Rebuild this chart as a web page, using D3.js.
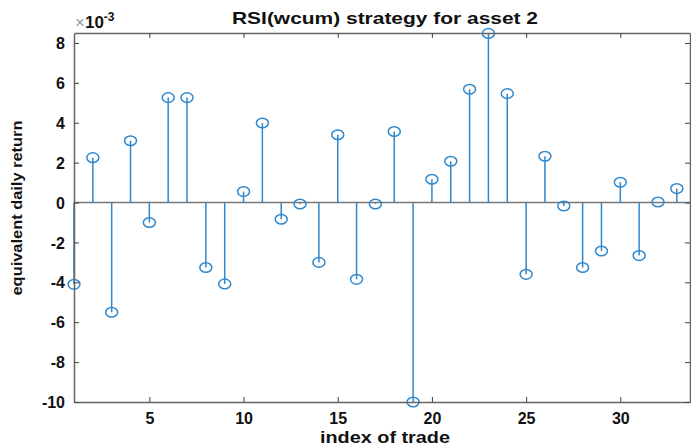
<!DOCTYPE html>
<html>
<head>
<meta charset="utf-8">
<script src="https://cdn.jsdelivr.net/npm/d3@7"></script>
<style>
  body { margin: 0; background: #fff; }
  text { font-family: "Liberation Sans", Arial, sans-serif; font-weight: bold; }
</style>
</head>
<body>
<div id="chart"></div>
<script>
// trade index and equivalent daily return (x 1e-3)
const trades = d3.range(1, 34);
const returns = [-4.1, 2.25, -5.5, 3.1, -1.0, 5.26, 5.26, -3.26, -4.08, 0.55,
                 3.99, -0.84, -0.07, -3.0, 3.4, -3.85, -0.07, 3.56, -10.0, 1.17,
                 2.07, 5.68, 8.48, 5.46, -3.6, 2.32, -0.17, -3.26, -2.43, 1.02,
                 -2.66, 0.03, 0.7];
const xTicks = [5, 10, 15, 20, 25, 30];
const yTicks = [-10, -8, -6, -4, -2, 0, 2, 4, 6, 8];

const width = 691, height = 448;
const margin = { top: 33, right: 1, bottom: 46, left: 74 };

const svg = d3.select("#chart").append("svg")
    .attr("width", width)
    .attr("height", height);

const x = d3.scaleLinear()
    .domain([1, 33.7])
    .range([margin.left, width - margin.right]);

const y = d3.scaleLinear()
    .domain([-10, 8.5])
    .range([height - margin.bottom, margin.top]);

const axisColor = "#666";
const stemColor = "#2f87cc";

// zero baseline
svg.append("line")
    .attr("x1", margin.left).attr("x2", width - margin.right)
    .attr("y1", y(0)).attr("y2", y(0))
    .attr("stroke", "#777").attr("stroke-width", 1.5);

// stems
const data = trades.map((t, i) => ({ t, v: returns[i] }));
svg.selectAll(".stem")
    .data(data)
    .enter().append("line")
    .attr("x1", d => x(d.t)).attr("x2", d => x(d.t))
    .attr("y1", y(0)).attr("y2", d => y(d.v))
    .attr("stroke", stemColor).attr("stroke-width", 1.5);

svg.selectAll(".marker")
    .data(data)
    .enter().append("ellipse")
    .attr("cx", d => x(d.t)).attr("cy", d => y(d.v))
    .attr("rx", 6).attr("ry", 4.8)
    .attr("fill", "none")
    .attr("stroke", stemColor).attr("stroke-width", 1.5);

// axes (MATLAB style box with inward ticks)
const fmt = d => String(d); // plain hyphen minus like MATLAB
const gx = svg.append("g")
    .attr("transform", `translate(0,${height - margin.bottom})`)
    .call(d3.axisBottom(x).tickValues(xTicks).tickFormat(fmt).tickSizeInner(-5).tickSizeOuter(0).tickPadding(11));
const gxTop = svg.append("g")
    .attr("transform", `translate(0,${margin.top})`)
    .call(d3.axisTop(x).tickValues(xTicks).tickSizeInner(-5).tickSizeOuter(0).tickFormat(""));
const gy = svg.append("g")
    .attr("transform", `translate(${margin.left},0)`)
    .call(d3.axisLeft(y).tickValues(yTicks).tickFormat(fmt).tickSizeInner(-5).tickSizeOuter(0).tickPadding(9));
const gyRight = svg.append("g")
    .attr("transform", `translate(${width - margin.right},0)`)
    .call(d3.axisRight(y).tickValues(yTicks).tickSizeInner(-5).tickSizeOuter(0).tickFormat(""));

[gx, gxTop, gy, gyRight].forEach(g => {
    g.select(".domain").attr("stroke", axisColor).attr("stroke-width", 1.5);
    g.selectAll(".tick line").attr("stroke", "#444");
    g.selectAll("text")
        .attr("fill", "#111")
        .style("font-size", "16px")
        .style("font-family", "'Liberation Sans', Arial, sans-serif")
        .style("font-weight", "bold");
});
gy.selectAll("text").attr("dy", "0.35em");

// exponent label
const expo = svg.append("text")
    .attr("x", margin.left + 1)
    .attr("y", 28)
    .style("font-size", "17px");
expo.append("tspan").attr("fill", "#999").style("font-weight", "normal").text("×");
expo.append("tspan").attr("fill", "#111").text("10");
expo.append("tspan").attr("fill", "#111").attr("dy", -7).style("font-size", "12px").text("-3");

// title
svg.append("text")
    .attr("x", 385)
    .attr("y", 24)
    .attr("text-anchor", "middle")
    .attr("textLength", 306)
    .attr("lengthAdjust", "spacingAndGlyphs")
    .style("font-size", "17px")
    .attr("fill", "#111")
    .text("RSI(wcum) strategy for asset 2");

// x label
svg.append("text")
    .attr("x", 385)
    .attr("y", 443)
    .attr("text-anchor", "middle")
    .attr("textLength", 130)
    .attr("lengthAdjust", "spacingAndGlyphs")
    .style("font-size", "16px")
    .attr("fill", "#111")
    .text("index of trade");

// y label
svg.append("text")
    .attr("transform", "rotate(-90)")
    .attr("x", -208)
    .attr("y", 22)
    .attr("text-anchor", "middle")
    .attr("textLength", 175)
    .attr("lengthAdjust", "spacingAndGlyphs")
    .style("font-size", "15px")
    .attr("fill", "#111")
    .text("equivalent daily return");
</script>
</body>
</html>
